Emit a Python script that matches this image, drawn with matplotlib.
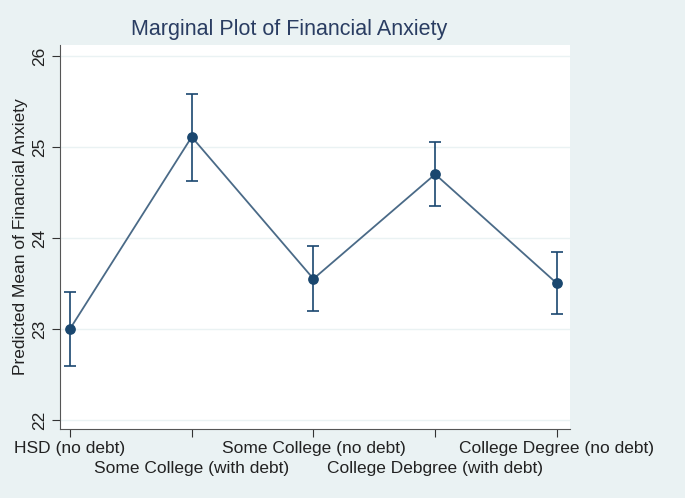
import matplotlib.pyplot as plt

plt.rcParams['font.family'] = ['Liberation Sans', 'DejaVu Sans']

# data
groups = ["HSD (no debt)", "Some College (with debt)", "Some College (no debt)",
          "College Debgree (with debt)", "College Degree (no debt)"]
margin = [23.00, 25.11, 23.55, 24.70, 23.50]
ci_low = [22.59, 24.63, 23.20, 24.35, 23.16]
ci_high = [23.40, 25.58, 23.91, 25.05, 23.84]
yticks = [22, 23, 24, 25, 26]

bg = '#eaf2f3'
navy = '#1a476f'
linecol = '#4a6a87'

x = list(range(1, len(groups) + 1))

fig = plt.figure(figsize=(6.85, 4.98), dpi=100, facecolor=bg)
ax = fig.add_axes([0.0876, 0.1386, 0.7444, 0.771])
ax.set_facecolor('white')

ax.plot(x, margin, color=linecol, lw=1.3, zorder=2)
yerr = [[m - l for m, l in zip(margin, ci_low)], [h - m for m, h in zip(margin, ci_high)]]
ax.errorbar(x, margin, yerr=yerr, fmt='none', ecolor=navy, elinewidth=1.2,
            capsize=4, capthick=1.2, zorder=3)
ax.scatter(x, margin, s=45, color=navy, zorder=4)

ax.set_xlim(0.918, 5.107)
ax.set_ylim(21.90, 26.12)
ax.set_yticks(yticks)
ax.set_yticklabels([str(t) for t in yticks], rotation=90, va='center')
ax.grid(axis='y', color=bg, lw=1)
ax.set_axisbelow(True)

ax.set_xticks(x)
ax.set_xticklabels(groups)
ax.tick_params(axis='x', labelsize=12.5)
for i, t in enumerate(ax.xaxis.get_major_ticks()):
    t.set_pad(3 if i % 2 == 0 else 17)

for s in ['top', 'right']:
    ax.spines[s].set_visible(False)
for s in ['left', 'bottom']:
    ax.spines[s].set_color('#555555')
ax.tick_params(axis='both', colors='#333333', labelcolor='#222222', length=6)
ax.tick_params(axis='y', labelsize=12.5, pad=3)

ax.set_ylabel("Predicted Mean of Financial Anxiety", fontsize=12.5, color='#222222', labelpad=3)
fig.text(289 / 685, 1 - 29 / 498, "Marginal Plot of Financial Anxiety", fontsize=15.5,
         color='#2a3d62', ha='center', va='center')

fig.savefig('out.png', dpi=100, facecolor=bg)
